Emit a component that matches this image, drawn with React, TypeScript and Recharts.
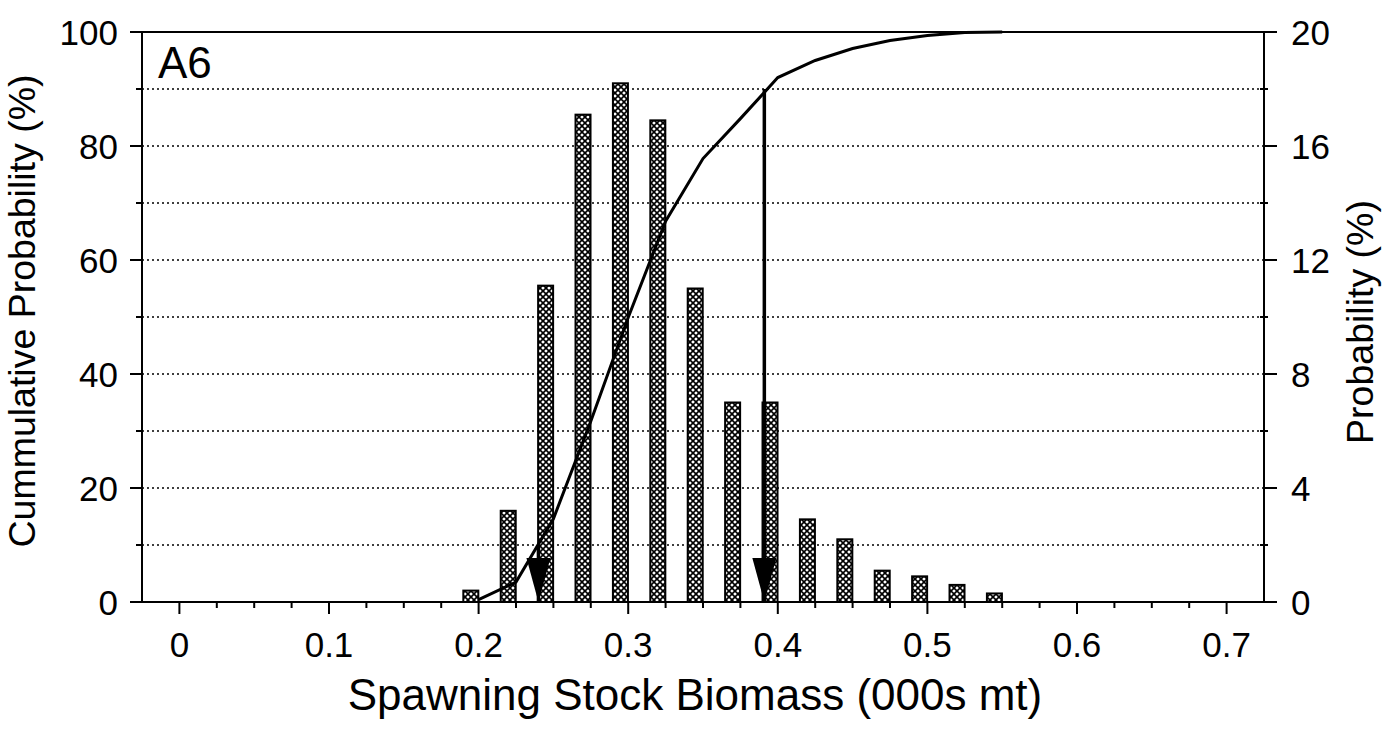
import {
  ComposedChart,
  Bar,
  Line,
  Scatter,
  XAxis,
  YAxis,
  CartesianGrid,
  ReferenceLine,
  Customized,
} from 'recharts';

// bin centres of the probability histogram (000s mt)
const binCentres = [0.195, 0.22, 0.245, 0.27, 0.295, 0.32, 0.345, 0.37, 0.395, 0.42, 0.445, 0.47, 0.495, 0.52, 0.545];
// probability (%) per bin, right axis
const probability = [0.4, 3.2, 11.1, 17.1, 18.2, 16.9, 11.0, 7.0, 7.0, 2.9, 2.2, 1.1, 0.9, 0.6, 0.3];

// cumulative probability (%) curve, left axis
const cumX = [0.2, 0.225, 0.25, 0.275, 0.3, 0.325, 0.35, 0.375, 0.4, 0.425, 0.45, 0.475, 0.5, 0.525, 0.55];
const cumulative = [0.4, 3.5, 14.6, 31.7, 49.9, 66.8, 77.8, 84.8, 92.0, 95.0, 97.1, 98.5, 99.4, 99.9, 100];

// 10th / 90th percentile arrows
const percentileX = [0.24, 0.391];
const percentileY = [10, 90];

const xTicks = [
  0, 0.025, 0.05, 0.075, 0.1, 0.125, 0.15, 0.175, 0.2, 0.225, 0.25, 0.275, 0.3, 0.325, 0.35,
  0.375, 0.4, 0.425, 0.45, 0.475, 0.5, 0.525, 0.55, 0.575, 0.6, 0.625, 0.65, 0.675, 0.7,
];
const xLabels = ['0', '0.1', '0.2', '0.3', '0.4', '0.5', '0.6', '0.7'];
const leftTicks = [0, 10, 20, 30, 40, 50, 60, 70, 80, 90, 100];
const leftLabels = [0, 20, 40, 60, 80, 100];
const rightTicks = [0, 2, 4, 6, 8, 10, 12, 14, 16, 18, 20];
const rightLabels = [0, 4, 8, 12, 16, 20];

const barData = binCentres.map((x, i) => ({ x, prob: probability[i] }));
const cumData = cumX.map((x, i) => ({ x, cum: cumulative[i] }));
const arrowData = percentileX.map((x) => ({ x, y: 0 }));

const FONT = "'Liberation Sans', Arial, sans-serif";
const BAR_W = 15;

const XTick = ({ x, y, payload }: any) => {
  const label = xLabels.find((l) => Math.abs(Number(l) - payload.value) < 1e-6);
  return (
    <g>
      <line x1={x} x2={x} y1={y} y2={y + (label ? 12 : 6)} stroke="#000" strokeWidth={2} />
      {label && (
        <text x={x} y={y + 55} textAnchor="middle" fontSize={35} fontFamily={FONT} fill="#000">
          {label}
        </text>
      )}
    </g>
  );
};

const LeftTick = ({ x, y, payload }: any) => {
  const major = leftLabels.includes(payload.value);
  return (
    <g>
      <line x1={x} x2={x - (major ? 12 : 6)} y1={y} y2={y} stroke="#000" strokeWidth={2} />
      {major && (
        <text x={x - 24} y={y} dy="0.36em" textAnchor="end" fontSize={35} fontFamily={FONT} fill="#000">
          {payload.value}
        </text>
      )}
    </g>
  );
};

const RightTick = ({ x, y, payload }: any) => {
  const major = rightLabels.includes(payload.value);
  return (
    <g>
      <line x1={major ? x : x - 4} x2={x + (major ? 13 : 4)} y1={y} y2={y} stroke="#000" strokeWidth={2} />
      {major && (
        <text x={x + 27} y={y} dy="0.36em" textAnchor="start" fontSize={35} fontFamily={FONT} fill="#000">
          {payload.value}
        </text>
      )}
    </g>
  );
};

// keep the bar centred where the scale puts it, but at the scanned bar width
const HatchBar = ({ x, y, width, height }: any) => {
  if (!height || height <= 0) return null;
  const cx = x + width / 2;
  return (
    <rect
      x={cx - BAR_W / 2}
      y={y}
      width={BAR_W}
      height={height}
      fill="url(#hatch)"
      stroke="#000"
      strokeWidth={2}
    />
  );
};

const ArrowHead = ({ cx, cy }: any) => (
  <polygon points={`${cx - 12},${cy - 44} ${cx + 12},${cy - 44} ${cx},${cy}`} fill="#000" />
);

const Titles = () => (
  <g fontFamily={FONT} fill="#000">
    <text x={158} y={78} fontSize={44}>A6</text>
    <text x={695} y={710} textAnchor="middle" fontSize={44}>Spawning Stock Biomass (000s mt)</text>
    <text transform="translate(35,311) rotate(-90)" textAnchor="middle" fontSize={37.5}>
      Cummulative Probability (%)
    </text>
    <text transform="translate(1373,322) rotate(-90)" textAnchor="middle" fontSize={37.5}>
      Probability (%)
    </text>
  </g>
);

export default function App() {
  return (
    <div style={{ position: 'absolute', left: 0, top: 0, background: '#fff' }}>
      <ComposedChart
        width={1387}
        height={739}
        data={barData}
        margin={{ top: 32, right: 0, bottom: 0, left: 0 }}
      >
        <defs>
          <pattern id="hatch" patternUnits="userSpaceOnUse" width={6} height={6}>
            <rect width={6} height={6} fill="#fff" />
            <path d="M0,0 L6,6 M6,0 L0,6" stroke="#000" strokeWidth={1.6} />
          </pattern>
        </defs>
        <CartesianGrid
          yAxisId="left"
          vertical={false}
          stroke="#000"
          strokeWidth={1.5}
          strokeDasharray="2 3"
        />
        <XAxis
          dataKey="x"
          type="number"
          domain={[-0.025, 0.725]}
          allowDataOverflow
          ticks={xTicks}
          interval={0}
          tick={XTick}
          tickSize={0}
          tickMargin={0}
          tickLine={false}
          height={137}
          axisLine={{ stroke: '#000', strokeWidth: 2 }}
        />
        <YAxis
          yAxisId="left"
          orientation="left"
          domain={[0, 100]}
          ticks={leftTicks}
          interval={0}
          tick={LeftTick}
          tickSize={0}
          tickMargin={0}
          tickLine={false}
          width={142}
          axisLine={{ stroke: '#000', strokeWidth: 2 }}
        />
        <YAxis
          yAxisId="right"
          orientation="right"
          domain={[0, 20]}
          ticks={rightTicks}
          interval={0}
          tick={RightTick}
          tickSize={0}
          tickMargin={0}
          tickLine={false}
          width={123}
          axisLine={{ stroke: '#000', strokeWidth: 2 }}
        />
        <ReferenceLine yAxisId="left" y={100} stroke="#000" strokeWidth={2} />
        <Bar
          yAxisId="right"
          dataKey="prob"
          barSize={BAR_W}
          shape={HatchBar}
          isAnimationActive={false}
        />
        <Line
          yAxisId="left"
          data={cumData}
          dataKey="cum"
          type="linear"
          stroke="#000"
          strokeWidth={3}
          dot={false}
          isAnimationActive={false}
        />
        {percentileX.map((px, i) => (
          <ReferenceLine
            key={px}
            yAxisId="left"
            segment={[
              { x: px, y: percentileY[i] },
              { x: px, y: 0 },
            ]}
            stroke="#000"
            strokeWidth={3.5}
          />
        ))}
        <Scatter
          yAxisId="left"
          data={arrowData}
          dataKey="y"
          shape={ArrowHead}
          isAnimationActive={false}
        />
        <Customized component={Titles} />
      </ComposedChart>
    </div>
  );
}
